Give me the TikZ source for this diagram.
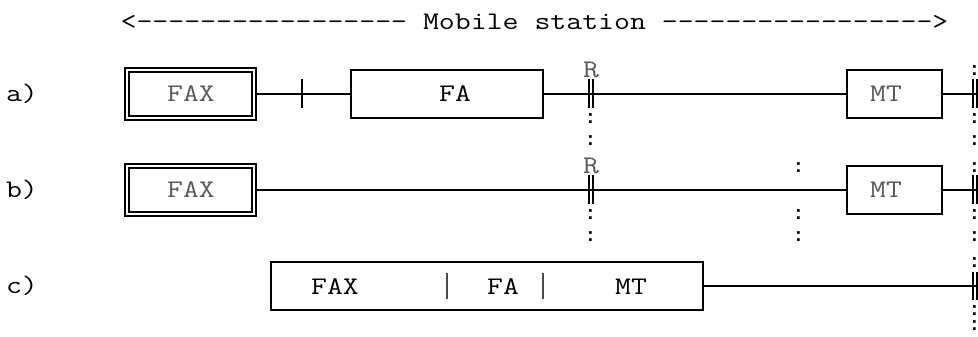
\documentclass[tikz,border=0pt]{standalone}
\usepackage{fontspec}
\newfontfamily\courierlike[FakeStretch=1.22]{Latin Modern Mono}
\newfontfamily\dotfont{Liberation Mono}
\usepackage{xcolor}

\tikzset{
	txtlabel/.style={inner sep=0pt, font=\courierlike\fontsize{19}{19}\selectfont},
	thinlabel/.style={txtlabel, text=black!65},
	unitbox/.style={draw=black, line width=1.1pt, inner sep=0pt, minimum height=36pt},
	faxbox/.style={draw=black, line width=1pt, double, double distance=2pt, inner sep=0pt,
		minimum width=95.25pt, minimum height=36pt, outer sep=2pt},
	link/.style={black, line width=1.1pt},
	barline/.style={black, line width=1.1pt},
	sepline/.style={black!70, line width=1pt},
	colons/.style={inner sep=0pt, font=\dotfont\bfseries\fontsize{14}{14}\selectfont},
}

\begin{document}
\begin{tikzpicture}[x=0.75pt, y=-0.75pt]
	\useasboundingbox (0, 0) rectangle (978, 336);

	\node[txtlabel] (title) at (534.5, 22) {<----------------- Mobile station ----------------->};

	\node[txtlabel] (labela) at (22, 94) {a)};
	\node[txtlabel] (labelb) at (22, 190) {b)};
	\node[txtlabel] (labelc) at (22, 286) {c)};

	% row a
	\node[faxbox] (faxa) at (190.5, 94) {};
	\node[unitbox, minimum width=144pt] (faa) at (447, 94) {};
	\node[unitbox, minimum width=71.25pt] (mta) at (894.5, 94) {};
	\node[thinlabel] (faxatext) at (191, 94) {FAX};
	\node[txtlabel] (fatext) at (455, 94) {FA};
	\node[thinlabel] (mtatext) at (886, 94) {MT};
	\node[thinlabel] (ra) at (591, 70) {R};
	\coordinate (enda) at (978, 94);
	\draw[link] (faxa) -- (faa);
	\draw[link] (faa) -- (mta);
	\draw[link] (mta) -- (enda);
	\draw[barline] (302, 79)--(302, 108);
	\draw[barline] (589, 79)--(589, 108);
	\draw[barline] (593, 79)--(593, 108);
	\draw[barline] (973, 79)--(973, 108);
	\draw[barline] (977, 79)--(977, 108);

	% row b
	\node[faxbox] (faxb) at (190.5, 190) {};
	\node[unitbox, minimum width=71.25pt] (mtb) at (894.5, 190) {};
	\node[thinlabel] (faxbtext) at (191, 190) {FAX};
	\node[thinlabel] (mtbtext) at (886, 190) {MT};
	\node[thinlabel] (rb) at (591, 166) {R};
	\coordinate (endb) at (978, 190);
	\draw[link] (faxb) -- (mtb);
	\draw[link] (mtb) -- (endb);
	\draw[barline] (589, 175)--(589, 204);
	\draw[barline] (593, 175)--(593, 204);
	\draw[barline] (973, 175)--(973, 204);
	\draw[barline] (977, 175)--(977, 204);

	% row c
	\node[unitbox, minimum width=324pt] (term) at (487, 286) {};
	\node[txtlabel] (faxctext) at (335, 287) {FAX};
	\node[txtlabel] (factext) at (503, 287) {FA};
	\node[txtlabel] (mtctext) at (631, 287) {MT};
	\coordinate (endc) at (978, 286);
	\draw[link] (term) -- (endc);
	\draw[sepline] (447, 273)--(447, 299);
	\draw[sepline] (543, 273)--(543, 299);
	\draw[barline] (973, 272)--(973, 300);
	\draw[barline] (977, 272)--(977, 300);

	% dotted columns
	\foreach \y in {118.5, 140.5, 215, 237}
		\node[colons] (cola\y) at (590.5, \y) {:};
	\foreach \y in {167.5, 215, 237}
		\node[colons] (colb\y) at (798.5, \y) {:};
	\foreach \y in {71, 118.5, 140.5, 167.5, 215, 237, 263, 311, 326}
		\node[colons] (colc\y) at (974.5, \y) {:};
\end{tikzpicture}
\end{document}
